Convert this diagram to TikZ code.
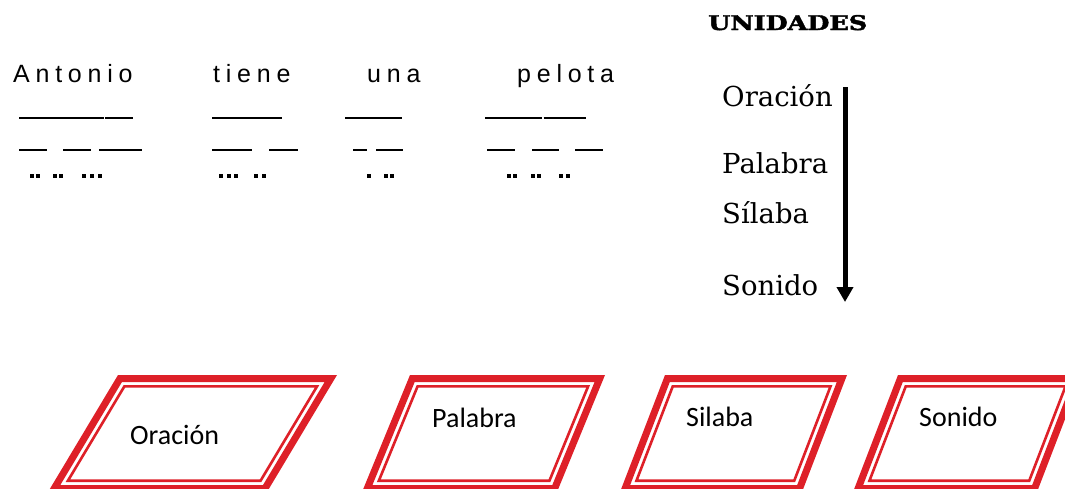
\documentclass[tikz,border=0pt]{standalone}
\usepackage{fontspec}
\setmainfont{Liberation Sans}
\newfontfamily\sentfont[LetterSpace=23]{Liberation Sans}
\newfontfamily\unifont{DejaVu Serif}
\newfontfamily\unibfont[FakeBold=2]{DejaVu Serif Bold}
\newfontfamily\boxfont{Carlito}
\usetikzlibrary{arrows.meta}
\definecolor{boxred}{RGB}{222,32,40}
\tikzset{
  word/.style={anchor=base west, inner sep=0pt, font=\sentfont\fontsize{25}{30}\selectfont},
  unit/.style={anchor=base west, inner sep=0pt, font=\unifont\fontsize{27.5}{33}\selectfont},
  boxlabel/.style={anchor=base west, inner sep=0pt, font=\boxfont\fontsize{28}{34}\selectfont},
  rulestroke/.style={line width=2pt},
  outerband/.style={draw=boxred, line width=7pt},
  innerline/.style={draw=boxred, line width=2.6pt}
}
\newcommand{\redpgram}[3]{%
  \pgfmathsetmacro{\pgL}{100*sqrt((#3/100)^2+1.17^2)}%
  \pgfmathsetmacro{\pgA}{(\pgL-#3)/117}%
  \pgfmathsetmacro{\pgB}{(\pgL+#3)/117}%
  \path[outerband] ({#1+3.5*\pgA},378.5) -- ({#2-3.5*\pgB},378.5) -- ({#2-#3-3.5*\pgA},488.5) -- ({#1-#3+3.5*\pgB},488.5) -- cycle;
  \path[innerline] ({#1+11.3*\pgA},386.3) -- ({#2-11.3*\pgB},386.3) -- ({#2-#3-11.3*\pgA},480.7) -- ({#1-#3+11.3*\pgB},480.7) -- cycle;
}
\newcommand{\dotrow}[1]{\foreach \dx in {#1} {\fill ({\dx-1.6},174.4) rectangle ++(3.3,3.3);}}
\begin{document}
\begin{tikzpicture}[x=1pt,y=-1pt]
\useasboundingbox (0,0) rectangle (1065,488);
\fill[white] (0,0) rectangle (1065,488);
\clip (0,0) rectangle (1065,488);

% sentence
\node[word] (antonio) at (13,82) {Antonio};
\node[word] (tiene) at (213,82) {tiene};
\node[word] (una) at (367,82) {una};
\node[word] (pelota) at (517,82) {pelota};

% row 1 lines
\draw[rulestroke] (19,118) -- (104,118);
\draw[rulestroke] (105,118) -- (133,118);
\draw[rulestroke] (212,118) -- (282,118);
\draw[rulestroke] (345,118) -- (402,118);
\draw[rulestroke] (485,118) -- (542,118);
\draw[rulestroke] (543.5,118) -- (586,118);

% row 2 lines
\draw[rulestroke] (19,150) -- (47,150);
\draw[rulestroke] (63,150) -- (91,150);
\draw[rulestroke] (99,150) -- (142,150);
\draw[rulestroke] (212,150) -- (252,150);
\draw[rulestroke] (269,150) -- (298,150);
\draw[rulestroke] (353,150) -- (367,150);
\draw[rulestroke] (376,150) -- (403,150);
\draw[rulestroke] (487,150) -- (515,150);
\draw[rulestroke] (532,150) -- (559,150);
\draw[rulestroke] (575,150) -- (603,150);

% dots
\dotrow{32,38,55,61,84,92,100}
\dotrow{221,229,236,256,264}
\dotrow{369,386,392}
\dotrow{509,515,533,539,561,568}

% units column
\node[anchor=base west, inner sep=0pt] (unidades) at (708,30) {\resizebox{159pt}{15pt}{\unibfont UNIDADES}};
\node[unit] (uoracion) at (722,106) {Oración};
\node[unit] (upalabra) at (722,173) {Palabra};
\node[unit] (usilaba) at (722,223) {Sílaba};
\node[unit] (usonido) at (722,295) {Sonido};
\coordinate (atop) at (845,87);
\coordinate (abot) at (845,302);
\draw[line width=5pt, -{Triangle[width=16pt,length=15pt]}] (atop) -- (abot);

% parallelograms
\redpgram{118}{337}{70}
\redpgram{410}{605}{48}
\redpgram{665}{847}{45}
\redpgram{898}{1082}{45}

\node[boxlabel] (boracion) at (130,444) {Oración};
\node[boxlabel] (bpalabra) at (432,427) {Palabra};
\node[boxlabel] (bsilaba) at (686,426) {Silaba};
\node[boxlabel] (bsonido) at (919,426) {Sonido};
\end{tikzpicture}
\end{document}
